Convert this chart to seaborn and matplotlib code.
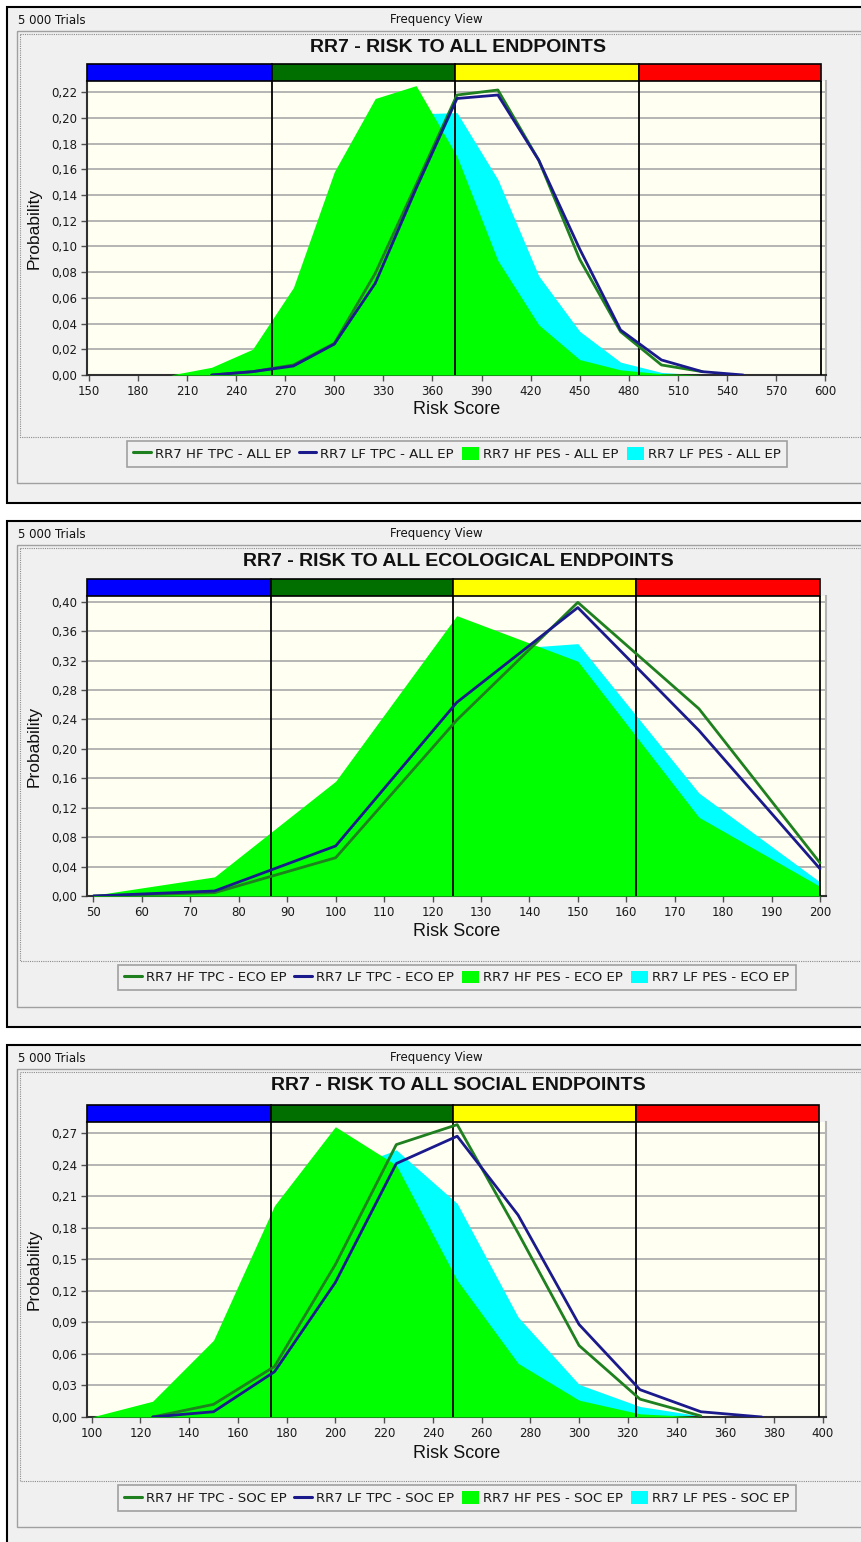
import matplotlib
matplotlib.use("Agg")
import matplotlib.pyplot as plt
import seaborn as sns
from matplotlib.patches import Rectangle, Patch
from matplotlib.lines import Line2D
from matplotlib.ticker import FixedLocator, FuncFormatter

# ---- data: panel 1, all endpoints
all_x_pes = [200, 225, 250, 275, 300, 325, 350, 375, 400, 425, 450, 475, 500, 525, 550]
all_hf_pes = [0.000, 0.006, 0.020, 0.068, 0.158, 0.215, 0.225, 0.170, 0.089, 0.039, 0.012, 0.004, 0.001, 0.000, 0.000]
all_lf_pes = [0.000, 0.003, 0.012, 0.040, 0.090, 0.160, 0.203, 0.204, 0.152, 0.077, 0.034, 0.010, 0.002, 0.000, 0.000]
all_x_hf_tpc = [225, 250, 275, 300, 325, 350, 375, 400, 425, 450, 475, 500, 525]
all_hf_tpc = [0.000, 0.0026, 0.0078, 0.0246, 0.079, 0.148, 0.2177, 0.2216, 0.167, 0.090, 0.0337, 0.0078, 0.0026]
all_x_lf_tpc = [225, 250, 275, 300, 325, 350, 375, 400, 425, 450, 475, 500, 525, 550]
all_lf_tpc = [0.000, 0.0026, 0.007, 0.024, 0.0713, 0.145, 0.215, 0.2177, 0.167, 0.098, 0.035, 0.0117, 0.0026, 0.000]
all_zones = [148.8, 262, 374, 486, 597.6]
all_xticks = list(range(150, 601, 30))
all_yticks = [i * 0.02 for i in range(12)]

# ---- data: panel 2, ecological endpoints
eco_x = [50, 75, 100, 125, 150, 175, 200]
eco_hf_pes = [0.001, 0.026, 0.156, 0.381, 0.319, 0.107, 0.013]
eco_lf_pes = [0.001, 0.015, 0.120, 0.331, 0.343, 0.140, 0.019]
eco_hf_tpc = [0.000, 0.0045, 0.052, 0.239, 0.399, 0.2545, 0.045]
eco_lf_tpc = [0.000, 0.0068, 0.068, 0.263, 0.392, 0.225, 0.037]
eco_zones = [48.66, 86.7, 124.2, 162.0, 200]
eco_xticks = list(range(50, 201, 10))
eco_yticks = [i * 0.04 for i in range(11)]

# ---- data: panel 3, social endpoints
soc_x_pes = [100, 125, 150, 175, 200, 225, 250, 275, 300, 325, 350]
soc_hf_pes = [0.000, 0.015, 0.073, 0.201, 0.276, 0.2395, 0.130, 0.051, 0.016, 0.003, 0.000]
soc_lf_pes = [0.000, 0.005, 0.030, 0.120, 0.232, 0.254, 0.203, 0.095, 0.031, 0.010, 0.001]
soc_x_hf_tpc = [125, 150, 175, 200, 225, 250, 275, 300, 325, 350]
soc_hf_tpc = [0.000, 0.012, 0.048, 0.145, 0.259, 0.278, 0.175, 0.068, 0.017, 0.001]
soc_x_lf_tpc = [125, 150, 175, 200, 225, 250, 275, 300, 325, 350, 375]
soc_lf_tpc = [0.000, 0.005, 0.043, 0.128, 0.241, 0.267, 0.192, 0.088, 0.026, 0.005, 0.000]
soc_zones = [98.07, 173.6, 248.3, 323.4, 398.6]
soc_xticks = list(range(100, 401, 20))
soc_yticks = [i * 0.03 for i in range(10)]

titles = ["RR7 - RISK TO ALL ENDPOINTS",
          "RR7 - RISK TO ALL ECOLOGICAL ENDPOINTS",
          "RR7 - RISK TO ALL SOCIAL ENDPOINTS"]
tags = ["ALL EP", "ECO EP", "SOC EP"]
zone_colors = ["#0000FF", "#006F00", "#FFFF00", "#FF0000"]
HF_LINE, LF_LINE = "#1E801E", "#1A1A8C"
HF_FILL, LF_FILL = "#00FF00", "#00FFFF"

sns.set_style("white")
plt.rcParams["font.family"] = ["Liberation Sans", "DejaVu Sans"]
SMALL = "DejaVu Sans"

W, H = 862, 1542
fig = plt.figure(figsize=(W / 100, H / 100), dpi=100)
fig.patch.set_facecolor("white")

bg = fig.add_axes([0, 0, 1, 1], zorder=0)
bg.set_xlim(0, W)
bg.set_ylim(H, 0)
bg.axis("off")


def px_rect(x0, y0, x1, y1):
    return [x0 / W, 1 - y1 / H, (x1 - x0) / W, (y1 - y0) / H]


def fmt(v, p):
    return f"{v:.2f}".replace(".", ",")


# layout (pixels): box top, band top/bottom, axes bottom, x label y,
# dotted bottom, legend y0/y1, gray bottom, box bottom, xlim, ylim top
layout = [
    dict(top=7, band=(64, 81), axb=375, xl=410, dotb=437, leg=(440, 468),
         grayb=483, boxb=503, xlim=(148.8, 600.6), ytop=0.2286),
    dict(top=521, band=(579, 596), axb=896, xl=932, dotb=961, leg=(963, 992),
         grayb=1007, boxb=1027, xlim=(48.66, 201.24), ytop=0.4077),
    dict(top=1045, band=(1105, 1122), axb=1417, xl=1453, dotb=1481, leg=(1484, 1512),
         grayb=1527, boxb=1547, xlim=(98.07, 401.35), ytop=0.2805),
]

series = [
    (all_x_pes, all_hf_pes, all_lf_pes, all_x_hf_tpc, all_hf_tpc, all_x_lf_tpc, all_lf_tpc,
     all_zones, all_xticks, all_yticks),
    (eco_x, eco_hf_pes, eco_lf_pes, eco_x, eco_hf_tpc, eco_x, eco_lf_tpc,
     eco_zones, eco_xticks, eco_yticks),
    (soc_x_pes, soc_hf_pes, soc_lf_pes, soc_x_hf_tpc, soc_hf_tpc, soc_x_lf_tpc, soc_lf_tpc,
     soc_zones, soc_xticks, soc_yticks),
]

for i, (L, S) in enumerate(zip(layout, series)):
    xp, hfp, lfp, xh, hft, xlf, lft, zones, xticks, yticks = S
    top = L["top"]

    # window chrome
    bg.add_patch(Rectangle((7, top), 900, L["boxb"] - top, facecolor="#F0F0F0",
                           edgecolor="black", lw=1.5))
    bg.add_patch(Rectangle((17, top + 24), 900, L["grayb"] - top - 24, fill=False,
                           edgecolor="#A0A0A0", lw=1.0))
    bg.add_patch(Rectangle((20, top + 27), 841, L["dotb"] - top - 27, fill=False,
                           edgecolor="#8C8C8C", lw=0.8, ls=(0, (1, 1))))
    bg.text(18, top + 13, "5 000 Trials", fontsize=8.5, family=SMALL, va="center",
            ha="left", color="#111111")
    bg.text(436, top + 13, "Frequency View", fontsize=8.5, family=SMALL, va="center",
            ha="center", color="#111111")
    bg.text(458, top + 40, titles[i], fontsize=14, fontweight="bold", va="center",
            ha="center", color="#111111")
    bg.text(457, L["xl"], "Risk Score", fontsize=13, va="center", ha="center", color="#111111")
    bg.text(34, (L["band"][1] + L["axb"]) / 2, "Probability", fontsize=12.5, rotation=90,
            va="center", ha="center", color="#111111")

    # risk zone band
    bax = fig.add_axes(px_rect(87, L["band"][0], 826, L["band"][1]), zorder=3)
    bax.set_xlim(*L["xlim"])
    bax.set_ylim(0, 1)
    bax.axis("off")
    for k in range(4):
        bax.add_patch(Rectangle((zones[k], 0), zones[k + 1] - zones[k], 1,
                                facecolor=zone_colors[k], edgecolor="black", lw=1.2,
                                clip_on=False))

    # main plot
    ax = fig.add_axes(px_rect(87, L["band"][1], 826, L["axb"]), zorder=2)
    ax.set_facecolor("#FFFFF2")
    ax.set_xlim(*L["xlim"])
    ax.set_ylim(0, L["ytop"])
    ax.set_axisbelow(True)
    ax.yaxis.grid(True, color="#A8A8A8", lw=1.2)
    ax.xaxis.grid(False)

    ax.fill_between(xp, lfp, color=LF_FILL, lw=0, zorder=2)
    ax.fill_between(xp, hfp, color=HF_FILL, lw=0, zorder=3)
    for z in zones[1:]:
        ax.axvline(z, color="black", lw=1.3, zorder=4)
    sns.lineplot(x=xh, y=hft, ax=ax, color=HF_LINE, lw=2.0, zorder=5)
    sns.lineplot(x=xlf, y=lft, ax=ax, color=LF_LINE, lw=2.0, zorder=6)
    ax.set_xlabel("")
    ax.set_ylabel("")

    ax.xaxis.set_major_locator(FixedLocator(xticks))
    ax.yaxis.set_major_locator(FixedLocator(yticks))
    ax.yaxis.set_major_formatter(FuncFormatter(fmt))
    ax.tick_params(axis="both", direction="out", length=4, width=1, color="#505050",
                   labelsize=8.5, labelcolor="#1A1A1A", labelfontfamily=SMALL, pad=3,
                   left=True, bottom=True)
    for side in ["left", "bottom"]:
        ax.spines[side].set_color("#303030")
        ax.spines[side].set_linewidth(1.5)
    ax.spines["right"].set_color("#B4B4B4")
    ax.spines["right"].set_linewidth(1.5)
    ax.spines["top"].set_visible(False)

    # legend
    handles = [
        Line2D([], [], color=HF_LINE, lw=2.2, label=f"RR7 HF TPC - {tags[i]}"),
        Line2D([], [], color=LF_LINE, lw=2.2, label=f"RR7 LF TPC - {tags[i]}"),
        Patch(facecolor=HF_FILL, edgecolor="none", label=f"RR7 HF PES - {tags[i]}"),
        Patch(facecolor=LF_FILL, edgecolor="none", label=f"RR7 LF PES - {tags[i]}"),
    ]
    cy = (L["leg"][0] + L["leg"][1]) / 2
    leg = ax.legend(handles=handles, ncol=4, loc="center",
                    bbox_to_anchor=(457 / W, 1 - cy / H), bbox_transform=fig.transFigure,
                    prop={"family": SMALL, "size": 9.6}, frameon=True, fancybox=False,
                    framealpha=1, facecolor="#F0F0F0", edgecolor="#A0A0A0",
                    handlelength=1.3, handleheight=1.05, handletextpad=0.3,
                    columnspacing=0.6, borderpad=0.45, labelcolor="#1A1A1A")
    leg.get_frame().set_linewidth(1.2)

fig.savefig("out.png", dpi=100)
